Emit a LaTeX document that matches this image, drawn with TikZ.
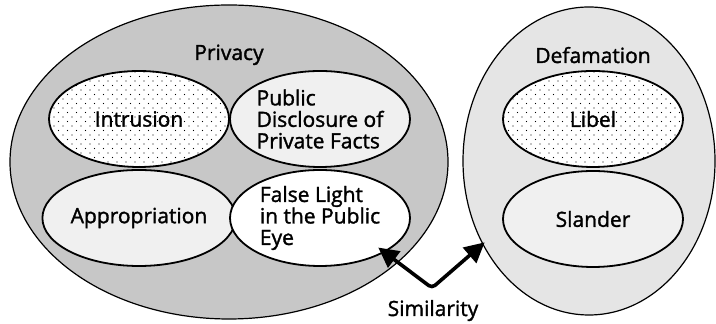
\documentclass[tikz,border=0pt]{standalone}
\usepackage{fontspec}
\setmainfont{Open Sans}[FakeBold=1.5]
\usetikzlibrary{shapes.geometric,arrows.meta,patterns.meta}

% sparse staggered dots
\tikzdeclarepattern{
  name=finedots,
  type=uncolored,
  bottom left={(-.5pt,-.5pt)},
  top right={(4pt,4pt)},
  tile size={(4.5pt,4.5pt)},
  code={
    \fill (0pt,0pt) circle (.3pt);
    \fill (2.25pt,2.25pt) circle (.3pt);
  }
}

\begin{document}
\begin{tikzpicture}[x=0.5pt,y=-0.5pt,
  font=\fontsize{10.5}{10.75}\selectfont,
  group/.style={draw,ellipse,line width=.6pt,inner sep=0pt},
  tort/.style={draw,ellipse,line width=.9pt,minimum width=90pt,
    minimum height=48pt,inner sep=0pt,align=left},
  dotfill/.style={fill=white,postaction={pattern=finedots}},
  simarrow/.style={{Triangle[length=10pt,width=10pt]}-{Triangle[length=10pt,width=10pt]},
    line width=1.8pt,rounded corners=2pt}]

  \useasboundingbox (0,0) rectangle (716,324);

  % privacy torts
  \node[group,fill=black!22,minimum width=219pt,minimum height=157pt] (privacy) at (229,162) {};
  \node[anchor=base] (privtitle) at (229,60) {Privacy};
  \node[tort,dotfill] (intrusion) at (139,119) {Intrusion};
  \node[tort,fill=black!6] (disclosure) at (320,119) {Public\\Disclosure of\\Private Facts};
  \node[tort,fill=black!6] (approp) at (139,218) {Appropriation};
  \node[tort,fill=white] (light) at (320,218) {False Light\\in the Public\\Eye};

  % defamation
  \node[group,fill=black!10,minimum width=126pt,minimum height=154pt] (defam) at (589,161) {};
  \node[anchor=base] (defamtitle) at (593,63) {Defamation};
  \node[tort,dotfill] (libel) at (593,119) {Libel};
  \node[tort,fill=black!6] (slander) at (593,219) {Slander};

  % link between the two
  \coordinate (bend) at (432,288);
  \draw[simarrow,shorten <=-4pt,shorten >=-1.5pt] (light.-28) -- (bend) -- (defam.-142);
  \node[anchor=base] (similar) at (433,316) {Similarity};

\end{tikzpicture}
\end{document}
